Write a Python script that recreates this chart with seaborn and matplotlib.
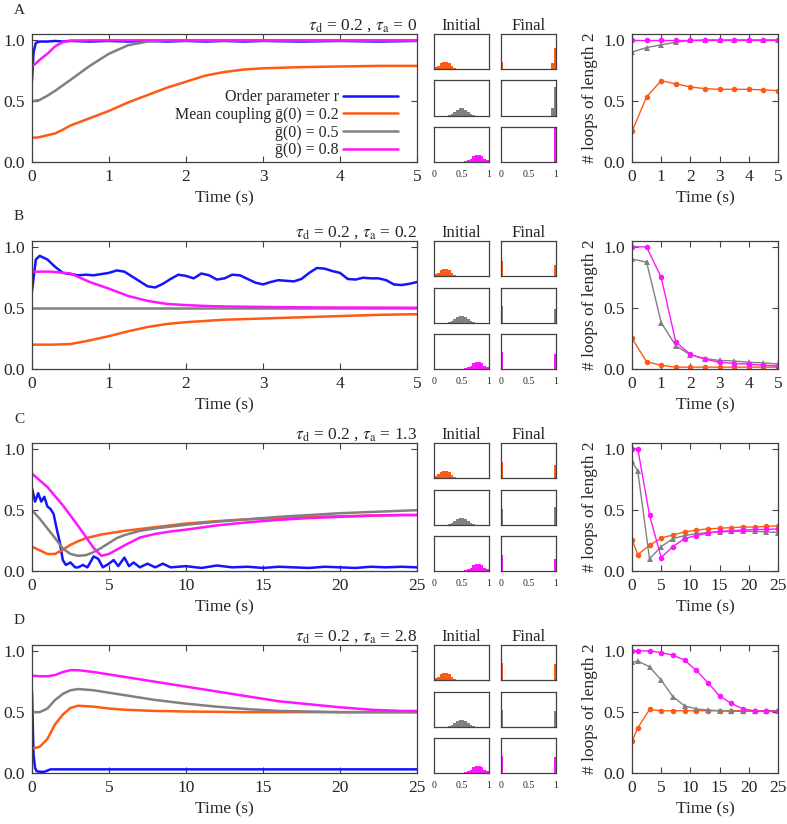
import numpy as np
import matplotlib
matplotlib.use("Agg")
import matplotlib.pyplot as plt
from matplotlib.ticker import FormatStrFormatter
import seaborn as sns

sns.set_style("ticks")
plt.rcParams["font.family"] = ["Liberation Serif", "DejaVu Serif"]
plt.rcParams["mathtext.fontset"] = "stix"

BLUE, ORANGE, GRAY, MAGENTA = "#1414ff", "#ff5a14", "#808080", "#ff14ff"

# ---- panel A (tau_a = 0) ----
t_a = [0, 0.02, 0.05, 0.1, 0.2, 0.3, 0.4, 0.5, 0.75, 1, 1.25, 1.5, 1.75, 2,
       2.25, 2.5, 2.75, 3, 3.5, 4, 4.5, 5]
a_r = [0.67, 0.90, 0.98, 0.99, 0.99, 0.995, 0.99, 0.995, 0.99, 0.995, 0.99,
       0.995, 0.99, 0.995, 0.99, 0.995, 0.99, 0.995, 0.99, 0.995, 0.99, 0.995]
a_g2 = [0.2, 0.2, 0.2, 0.205, 0.22, 0.235, 0.265, 0.30, 0.36, 0.42, 0.49, 0.55,
        0.61, 0.66, 0.71, 0.74, 0.76, 0.77, 0.78, 0.785, 0.79, 0.79]
a_g5 = [0.5, 0.5, 0.505, 0.51, 0.545, 0.585, 0.63, 0.675, 0.79, 0.89, 0.96,
        0.99, 1.0, 1.0, 1.0, 1.0, 1.0, 1.0, 1.0, 1.0, 1.0, 1.0]
a_g8 = [0.79, 0.795, 0.81, 0.84, 0.89, 0.95, 0.985, 0.998, 1.0, 1.0, 1.0, 1.0,
        1.0, 1.0, 1.0, 1.0, 1.0, 1.0, 1.0, 1.0, 1.0, 1.0]

# ---- panel B (tau_a = 0.2) ----
t_b_r = [0, 0.05, 0.1, 0.2, 0.3, 0.4, 0.5, 0.6, 0.7, 0.8, 0.9, 1.0, 1.1, 1.2,
         1.3, 1.4, 1.5, 1.6, 1.7, 1.8, 1.9, 2.0, 2.1, 2.2, 2.3, 2.4, 2.5, 2.6,
         2.7, 2.8, 2.9, 3.0, 3.1, 3.2, 3.3, 3.4, 3.5, 3.6, 3.7, 3.8, 3.9, 4.0,
         4.1, 4.2, 4.3, 4.4, 4.5, 4.6, 4.7, 4.8, 4.9, 5.0]
b_r = [0.64, 0.90, 0.93, 0.90, 0.84, 0.79, 0.78, 0.77, 0.775, 0.77, 0.78, 0.79,
       0.81, 0.80, 0.76, 0.72, 0.68, 0.67, 0.70, 0.74, 0.775, 0.765, 0.745,
       0.785, 0.77, 0.735, 0.745, 0.775, 0.77, 0.74, 0.71, 0.695, 0.715, 0.73,
       0.725, 0.72, 0.74, 0.79, 0.83, 0.825, 0.805, 0.79, 0.74, 0.735, 0.75,
       0.745, 0.745, 0.73, 0.695, 0.69, 0.70, 0.715]
t_b = [0, 0.25, 0.5, 0.75, 1.0, 1.25, 1.5, 1.75, 2.0, 2.25, 2.5, 2.75, 3.0,
       3.25, 3.5, 3.75, 4.0, 4.25, 4.5, 4.75, 5.0]
b_g2 = [0.2, 0.2, 0.205, 0.235, 0.27, 0.31, 0.345, 0.37, 0.385, 0.395, 0.405,
        0.41, 0.415, 0.42, 0.425, 0.43, 0.435, 0.44, 0.445, 0.448, 0.45]
b_g5 = [0.5] * 21
b_g8 = [0.80, 0.80, 0.785, 0.715, 0.66, 0.60, 0.56, 0.535, 0.525, 0.518, 0.514,
        0.512, 0.51, 0.508, 0.507, 0.506, 0.505, 0.505, 0.504, 0.504, 0.503]

# ---- panel C (tau_a = 1.3) ----
t_c_r = [0, 0.2, 0.4, 0.6, 0.8, 1.0, 1.2, 1.4, 1.6, 1.8, 2.0, 2.2, 2.5, 2.8,
         3.0, 3.3, 3.6, 4.0, 4.3, 4.6, 5.0, 5.3, 5.6, 6.0, 6.3, 6.6, 7.0, 7.5,
         8, 8.5, 9, 10, 11, 12, 13, 14, 15, 16, 17, 18, 19, 20, 21, 22, 23, 24, 25]
c_r = [0.68, 0.57, 0.64, 0.57, 0.61, 0.53, 0.51, 0.47, 0.35, 0.24, 0.09, 0.05,
       0.07, 0.03, 0.03, 0.05, 0.03, 0.12, 0.10, 0.03, 0.06, 0.09, 0.04, 0.11,
       0.04, 0.07, 0.03, 0.06, 0.03, 0.06, 0.03, 0.04, 0.025, 0.045, 0.03,
       0.035, 0.025, 0.035, 0.03, 0.025, 0.035, 0.03, 0.025, 0.035, 0.03,
       0.035, 0.03]
t_c = [0, 0.5, 1, 1.5, 2, 2.5, 3, 3.5, 4, 4.5, 5, 5.5, 6, 7, 8, 9, 10, 12, 14,
       16, 18, 20, 22, 24, 25]
c_g2 = [0.2, 0.17, 0.14, 0.14, 0.175, 0.215, 0.245, 0.27, 0.285, 0.30, 0.31,
        0.32, 0.33, 0.345, 0.36, 0.375, 0.39, 0.41, 0.425, 0.435, 0.445, 0.45,
        0.455, 0.46, 0.46]
c_g5 = [0.5, 0.43, 0.35, 0.27, 0.185, 0.14, 0.125, 0.13, 0.155, 0.19, 0.23,
        0.27, 0.295, 0.33, 0.35, 0.365, 0.38, 0.405, 0.425, 0.445, 0.46, 0.475,
        0.485, 0.495, 0.50]
c_g8 = [0.80, 0.745, 0.69, 0.615, 0.54, 0.455, 0.37, 0.28, 0.19, 0.125, 0.14,
        0.175, 0.21, 0.275, 0.305, 0.325, 0.34, 0.375, 0.40, 0.42, 0.435, 0.445,
        0.455, 0.46, 0.46]

# ---- panel D (tau_a = 2.8) ----
t_d_r = [0, 0.05, 0.1, 0.2, 0.3, 0.5, 0.8, 1.0, 1.2, 2, 5, 10, 15, 20, 25]
d_r = [0.67, 0.40, 0.15, 0.04, 0.015, 0.01, 0.01, 0.02, 0.03, 0.03, 0.03, 0.03,
       0.03, 0.03, 0.03]
t_d = [0, 0.5, 1, 1.5, 2, 2.5, 3, 4, 5, 6, 7, 8, 9, 10, 12, 14, 16, 18, 20, 22,
       24, 25]
d_g2 = [0.2, 0.215, 0.28, 0.40, 0.48, 0.535, 0.553, 0.545, 0.53, 0.52, 0.515,
        0.51, 0.508, 0.505, 0.503, 0.5, 0.5, 0.5, 0.5, 0.5, 0.5, 0.5]
d_g5 = [0.5, 0.5, 0.53, 0.60, 0.65, 0.68, 0.69, 0.68, 0.66, 0.64, 0.62, 0.60,
        0.585, 0.57, 0.545, 0.525, 0.51, 0.505, 0.5, 0.5, 0.5, 0.5]
d_g8 = [0.80, 0.795, 0.795, 0.805, 0.83, 0.845, 0.845, 0.83, 0.81, 0.79, 0.77,
        0.75, 0.73, 0.71, 0.67, 0.63, 0.59, 0.565, 0.54, 0.52, 0.51, 0.51]

# ---- loops of length 2 ----
tl_short = [0, 0.5, 1, 1.5, 2, 2.5, 3, 3.5, 4, 4.5, 5]
tl_long = [0, 1, 3, 5, 7, 9, 11, 13, 15, 17, 19, 21, 23, 25]
la_g2 = [0.25, 0.535, 0.665, 0.64, 0.615, 0.60, 0.595, 0.595, 0.595, 0.59, 0.585]
la_g5 = [0.90, 0.937, 0.96, 0.98, 0.995, 1.0, 1.0, 1.0, 1.0, 1.0, 1.0]
la_g8 = [1.0] * 11
lb_g2 = [0.25, 0.06, 0.03, 0.015, 0.015, 0.015, 0.015, 0.015, 0.015, 0.015, 0.015]
lb_g5 = [0.90, 0.875, 0.38, 0.19, 0.115, 0.085, 0.07, 0.065, 0.055, 0.05, 0.04]
lb_g8 = [1.0, 1.0, 0.75, 0.22, 0.12, 0.08, 0.055, 0.045, 0.04, 0.03, 0.025]
lc_g2 = [0.255, 0.135, 0.21, 0.27, 0.295, 0.32, 0.335, 0.345, 0.35, 0.355, 0.36,
         0.36, 0.365, 0.37]
lc_g5 = [0.90, 0.815, 0.10, 0.20, 0.265, 0.29, 0.305, 0.315, 0.32, 0.325, 0.325,
         0.325, 0.32, 0.315]
lc_g8 = [1.0, 1.0, 0.455, 0.11, 0.20, 0.265, 0.29, 0.31, 0.325, 0.33, 0.335,
         0.34, 0.34, 0.345]
ld_g2 = [0.26, 0.37, 0.52, 0.51, 0.51, 0.51, 0.51, 0.51, 0.51, 0.51, 0.51, 0.51,
         0.51, 0.51]
ld_g5 = [0.905, 0.916, 0.87, 0.76, 0.625, 0.55, 0.525, 0.515, 0.51, 0.505,
         0.505, 0.505, 0.505, 0.505]
ld_g8 = [1.0, 1.0, 1.0, 0.986, 0.965, 0.924, 0.84, 0.74, 0.63, 0.57, 0.525,
         0.51, 0.505, 0.505]

# ---- coupling histograms (fraction of max) ----
init_bins = [0.025, 0.075, 0.125, 0.175, 0.225, 0.275, 0.325, 0.375, 0.425,
             0.475, 0.525, 0.575, 0.625, 0.675, 0.725, 0.775, 0.825, 0.875,
             0.925, 0.975]
init_g2 = [0.05, 0.10, 0.16, 0.20, 0.20, 0.16, 0.09, 0.03, 0, 0, 0, 0, 0, 0, 0,
           0, 0, 0, 0, 0]
init_g5 = [0, 0, 0, 0, 0, 0.02, 0.05, 0.10, 0.16, 0.20, 0.20, 0.16, 0.10, 0.05,
           0.02, 0, 0, 0, 0, 0]
init_g8 = [0, 0, 0, 0, 0, 0, 0, 0, 0, 0, 0, 0.02, 0.05, 0.10, 0.16, 0.20, 0.20,
           0.16, 0.10, 0.05]
final_a_x = {"g2": [0.02, 0.93, 0.98], "g5": [0.93, 0.98], "g8": [0.98]}
final_a_h = {"g2": [0.2, 0.16, 0.6], "g5": [0.22, 0.8], "g8": [1.0]}
final_x = [0.02, 0.98]
final_b_h = {"g2": [0.42, 0.32], "g5": [0.47, 0.4], "g8": [0.49, 0.44]}
final_c_h = {"g2": [0.45, 0.36], "g5": [0.45, 0.5], "g8": [0.47, 0.35]}
final_d_h = {"g2": [0.48, 0.47], "g5": [0.48, 0.45], "g8": [0.5, 0.45]}

panels = [
    ("A", "0", 5, t_a, a_r, t_a, (a_g2, a_g5, a_g8), tl_short, (la_g2, la_g5, la_g8),
     final_a_x, final_a_h),
    ("B", "0.2", 5, t_b_r, b_r, t_b, (b_g2, b_g5, b_g8), tl_short, (lb_g2, lb_g5, lb_g8),
     {k: final_x for k in final_b_h}, final_b_h),
    ("C", "1.3", 25, t_c_r, c_r, t_c, (c_g2, c_g5, c_g8), tl_long, (lc_g2, lc_g5, lc_g8),
     {k: final_x for k in final_c_h}, final_c_h),
    ("D", "2.8", 25, t_d_r, d_r, t_d, (d_g2, d_g5, d_g8), tl_long, (ld_g2, ld_g5, ld_g8),
     {k: final_x for k in final_d_h}, final_d_h),
]

W, H = 787, 824
fig = plt.figure(figsize=(W / 100, H / 100), dpi=100)


def add_ax(x, y, w, h):
    return fig.add_axes([x / W, 1 - (y + h) / H, w / W, h / H])


def style_box(ax):
    for s in ax.spines.values():
        s.set_color("#404040")
        s.set_linewidth(0.9)
        s.set_visible(True)


def style_plot(ax, tmax):
    style_box(ax)
    ax.set_xlim(0, tmax)
    ax.set_ylim(0, 1.052)
    ax.set_yticks([0, 0.5, 1.0])
    ax.set_xticks(range(0, tmax + 1, 1 if tmax == 5 else 5))
    ax.yaxis.set_major_formatter(FormatStrFormatter("%.1f"))
    ax.tick_params(direction="in", top=True, right=True, length=4, width=0.8,
                   color="#404040", labelsize=12.5, pad=5)
    ax.set_xlabel("Time (s)", fontsize=12.5, labelpad=4)
    ax.set_ylabel("")


tops = [34, 241, 443, 645]
colors = [ORANGE, GRAY, MAGENTA]
labels = ["Mean coupling ḡ(0) = 0.2", "ḡ(0) = 0.5", "ḡ(0) = 0.8"]

for (letter, tau, tmax, tr, rv, tg, gs, tl, ls, fx, fh), top in zip(panels, tops):
    # main time course
    ax = add_ax(32, top, 385, 128)
    sns.lineplot(x=tr, y=rv, color=BLUE, lw=1.8, sort=False, errorbar=None, ax=ax,
                 label="Order parameter r")
    for g, c, lab in zip(gs, colors, labels):
        sns.lineplot(x=tg, y=g, color=c, lw=1.8, sort=False, errorbar=None, ax=ax,
                     label=lab)
    style_plot(ax, tmax)
    ax.set_title(r"$\tau_{\rm d}$ = 0.2 , $\tau_{\rm a}$ = " + tau, loc="right",
                 fontsize=12.5, pad=3)
    if letter == "A":
        ax.legend(loc="lower right", bbox_to_anchor=(0.95, 0.03), frameon=False,
                  markerfirst=False, fontsize=11.5, handlelength=3.4,
                  handletextpad=0.3, labelspacing=0.1, borderpad=0,
                  borderaxespad=0)
    else:
        ax.get_legend().remove()
    fig.text(14 / W, 1 - (top - 24) / H, letter, fontsize=11, va="center")

    # coupling histograms
    for i, (key, c, ini) in enumerate(zip(["g2", "g5", "g8"], colors,
                                          [init_g2, init_g5, init_g8])):
        for j, xc in enumerate([434, 501]):
            hx = add_ax(xc, top + 46.5 * i, 55, 35)
            if j == 0:
                sns.histplot(x=init_bins, weights=ini, binwidth=0.05,
                             binrange=(0, 1), color=c, alpha=1, linewidth=0,
                             ax=hx)
            else:
                sns.histplot(x=fx[key], weights=fh[key], binwidth=0.04,
                             binrange=(0, 1), color=c, alpha=1, linewidth=0,
                             ax=hx)
            style_box(hx)
            hx.set_xlim(-0.005, 1.005)
            hx.set_ylim(0, 1.0)
            hx.set_yticks([])
            hx.set_ylabel("")
            hx.set_xlabel("")
            hx.set_xticks([0, 0.5, 1])
            hx.tick_params(length=0, labelsize=7, pad=6)
            if i < 2:
                hx.set_xticklabels([])
            else:
                hx.set_xticklabels(["0", "0.5", "1"])
            if i == 0:
                hx.set_title("Initial" if j == 0 else "Final", fontsize=12, pad=3)

    # loops of length 2
    rx = add_ax(632, top, 146, 128)
    sns.lineplot(x=tl, y=ls[0], color=ORANGE, lw=1, marker="o", markersize=4,
                 markeredgewidth=0, sort=False, errorbar=None, ax=rx)
    sns.lineplot(x=tl, y=ls[1], color=GRAY, lw=1, marker="^", markersize=4,
                 markeredgewidth=0, sort=False, errorbar=None, ax=rx)
    sns.lineplot(x=tl, y=ls[2], color=MAGENTA, lw=1, marker="o", markersize=4,
                 markeredgewidth=0, sort=False, errorbar=None, ax=rx)
    style_plot(rx, tmax)
    rx.set_ylim(0, 1.048)
    rx.set_ylabel("# loops of length 2", fontsize=12.5, labelpad=4)

fig.savefig("out.png", dpi=100)
